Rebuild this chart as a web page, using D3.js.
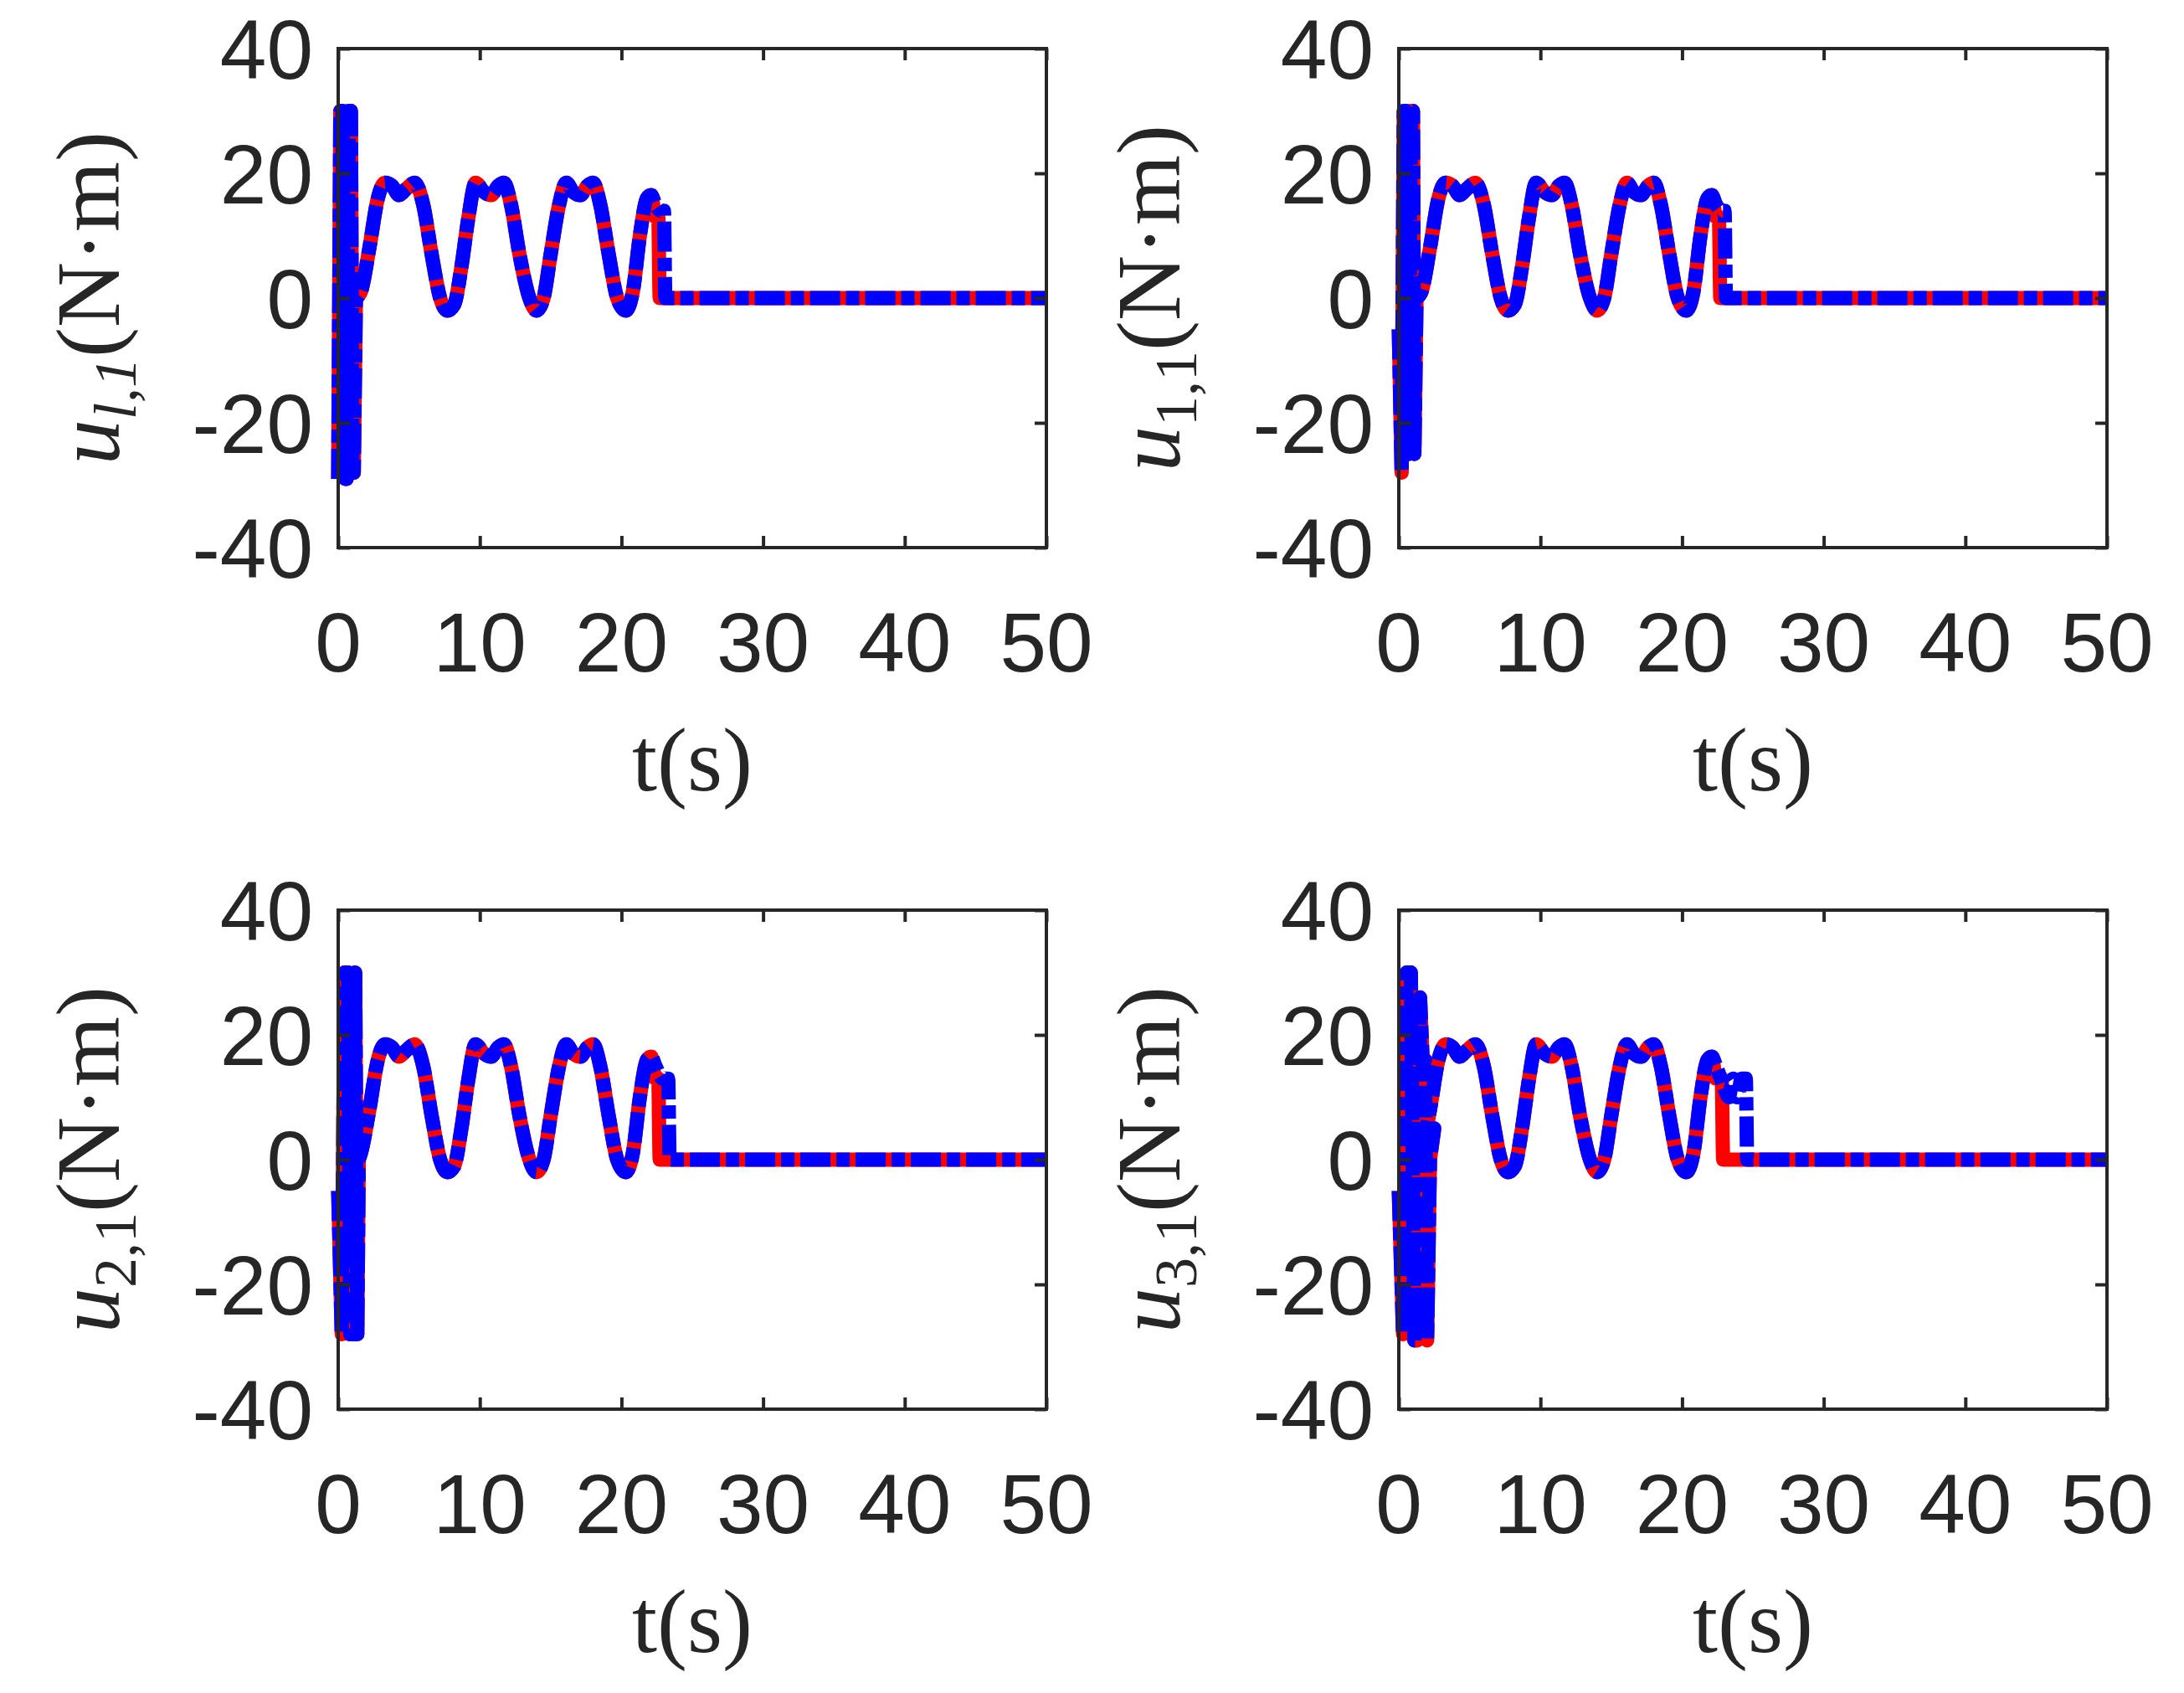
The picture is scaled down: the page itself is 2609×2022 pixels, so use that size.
<!DOCTYPE html>
<html><head><meta charset="utf-8">
<script src="https://cdn.jsdelivr.net/npm/d3@7"></script>
<style>body{margin:0;background:#fff}</style></head>
<body><svg id="c" width="2609" height="2022"></svg>
<script>
const xTicks=[0,10,20,30,40,50];
const yTicks=[-40,-20,0,20,40];
const subs=["l,1","1,1","2,1","3,1"];
// shared periodic part (t, value)
const waveT=[1.6,2.2,2.8,3.3,3.8,4.3,4.8,5.4,6.0,6.6,7.2,7.7,8.2,8.7,9.2,9.7,10.3,10.8,11.3,11.7,12.2,12.8,13.5,14.0,14.5,15.0,15.6,16.1,16.6,17.1,17.6,18.0,18.5,19.1,19.7,20.3,20.8,21.3,21.8,22.1];
const waveV=[1,8,16,18.5,18,16.5,17.5,18.5,15,7,0,-2,-1,5,13,18.5,17,16.5,18,18.5,15,7,0,-2,0,7,15,18.5,17,16.5,18,18.5,15,7,0,-2,1,10,16,16.5];
// initial transients per panel
const startT=[[0,0.15,0.3,0.5,0.6,0.75,0.9,1.0,1.1,1.25],[0,0.2,0.35,0.5,0.6,0.7,0.85,1.0,1.1,1.25],[0,0.25,0.45,0.7,0.85,1.0,1.2,1.35,1.45],[0,0.3,0.55,0.85,1.1,1.3,1.5,1.7,1.85,2.0,2.2,2.5]];
const startV=[[-29,30,30,-29,-29,30,30,-28,-28,0],[-5,-28,30,30,-25,-25,30,30,-25,0],[-5,-28,30,30,-28,-28,30,-28,0],[-5,-28,30,30,-29,-29,26,15,16,-29,0,5]];
// tails per panel (red, blue)
const redTailT=[[22.4,22.6,22.7,50],[22.4,22.6,22.7,50],[22.4,22.6,22.7,50],[22.4,22.8,22.9,50]];
const redTailV=[[13,13,0,0],[13,13,0,0],[13,13,0,0],[13,13,0,0]];
const blueTailT=[[22.4,22.8,23.0,23.1,50],[22.4,22.8,23.0,23.1,50],[22.4,22.9,23.3,23.4,23.5,50],[22.4,22.9,23.3,23.6,23.9,24.2,24.5,24.6,50]];
const blueTailV=[[15,14,14,0,0],[15,14,14,0,0],[15,13,13,0,0,0],[15,12,10,13,10,13,13,0,0]];

const svg=d3.select("#c");
const pos=[[404,58],[1671,58],[404,1087],[1671,1087]];
const W=846,H=596,ink="#262626";
pos.forEach((p,i)=>{
  const g=svg.append("g").attr("transform",`translate(${p[0]},${p[1]})`);
  const x=d3.scaleLinear().domain([0,50]).range([0,W]);
  const y=d3.scaleLinear().domain([-40,40]).range([H,0]);
  const mk=(tt,vv)=>{const a=[];
    startT[i].forEach((t,k)=>a.push([t,startV[i][k]]));
    waveT.forEach((t,k)=>a.push([t,waveV[k]]));
    tt.forEach((t,k)=>a.push([t,vv[k]]));return a;};
  const line=d3.line().x(d=>x(d[0])).y(d=>y(d[1])).curve(d3.curveMonotoneX);
  const lineL=d3.line().x(d=>x(d[0])).y(d=>y(d[1]));
  const draw=(data,col,dash)=>{
    const pathS=startT[i].length;
    g.append("path").datum(data).attr("d",d=>{
      return lineL(d.slice(0,pathS))+line(d.slice(pathS-1)).replace(/^M/,"L");
    }).attr("fill","none").attr("stroke",col).attr("stroke-width",17)
      .attr("stroke-linejoin","round").attr("stroke-dasharray",dash||null);
  };
  draw(mk(redTailT[i],redTailV[i]),"#ff0000");
  draw(mk(blueTailT[i],blueTailV[i]),"#0000ff","36,7,16,7");
  const ax=(a,tr)=>g.append("g").attr("transform",tr).call(a);
  const st=s=>{s.select(".domain").remove();s.selectAll("line").attr("stroke",ink).attr("stroke-width",4);s.selectAll("text").remove();};
  st(ax(d3.axisBottom(x).tickValues(xTicks).tickSize(-14),`translate(0,${H})`));
  st(ax(d3.axisTop(x).tickValues(xTicks).tickSize(-14),`translate(0,0)`));
  st(ax(d3.axisLeft(y).tickValues(yTicks).tickSize(-14),`translate(0,0)`));
  st(ax(d3.axisRight(y).tickValues(yTicks).tickSize(-14),`translate(${W},0)`));
  g.append("rect").attr("width",W).attr("height",H).attr("fill","none").attr("stroke",ink).attr("stroke-width",4);
  xTicks.forEach(t=>g.append("text").attr("x",x(t)).attr("y",H+148).attr("text-anchor","middle")
    .attr("font-family","Liberation Sans").attr("font-size",100).attr("fill",ink).text(t));
  yTicks.forEach(t=>g.append("text").attr("x",-30).attr("y",y(t)+36).attr("text-anchor","end")
    .attr("font-family","Liberation Sans").attr("font-size",100).attr("fill",ink).text(t));
  g.append("text").attr("x",W/2).attr("y",H+290).attr("text-anchor","middle")
    .attr("font-family","Liberation Serif").attr("font-size",108).attr("fill",ink).text("t(s)");
  const yl=g.append("text").attr("transform",`translate(-262,${H/2}) rotate(-90)`).attr("text-anchor","middle")
    .attr("font-family","Liberation Serif").attr("font-size",108).attr("fill",ink);
  yl.append("tspan").attr("font-style","italic").text("u");
  yl.append("tspan").attr("font-size",72).attr("dy",20).attr("font-style",i==0?"italic":"normal").text(subs[i]);
  yl.append("tspan").attr("dy",-20).text("(N·m)");
});
</script></body></html>
